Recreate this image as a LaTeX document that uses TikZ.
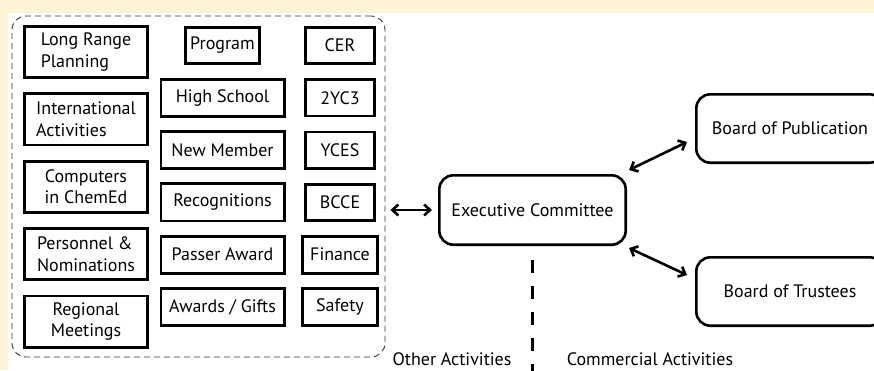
\documentclass[tikz,border=0pt]{standalone}
\usepackage{fontspec}
\setmainfont{PT Sans}
\usetikzlibrary{positioning,arrows.meta}
\definecolor{cream}{HTML}{FFF3D5}
\newcommand{\lbl}{\fontsize{18}{21.5}\selectfont}

\begin{document}
\begin{tikzpicture}[x=1pt,y=-1pt,on grid,auto,
    box/.style={draw,line width=2.8pt,align=center,inner sep=0pt,font=\lbl},
    lbox/.style={box,minimum width=123.2pt,minimum height=51.2pt},
    mbox/.style={box,minimum width=123.2pt,minimum height=37.2pt},
    sbox/.style={box,minimum width=69.2pt,minimum height=36.2pt},
    rbox/.style={box,line width=2.6pt,rounded corners=14pt},
    grpbox/.style={draw=black!80,dash pattern=on 6pt off 4pt,line width=0.9pt,rounded corners=14pt},
    arr/.style={{Straight Barb[length=6pt,width=11pt]}-{Straight Barb[length=6pt,width=11pt]},line width=2.6pt},
    split/.style={line width=3.3pt,dash pattern=on 13pt off 13pt}]
   \useasboundingbox (0,0) rectangle (874,370);
   \fill[cream] (0,0) rectangle (874,370);
   \fill[white] (8,13) rectangle (874,370);
   % committees
   \node[grpbox,minimum width=373pt,minimum height=341pt] (grp) at (198.5,186.5) {};
   \node[lbox,align=left] (lrp) at (86,52) {Long Range\\Planning};
   \node[lbox,align=left] (intl) [below=67.4pt of lrp] {International\\Activities};
   \node[lbox] (comp) [below=67.4pt of intl] {Computers\\in ChemEd};
   \node[lbox,align=left] (pers) [below=67.4pt of comp] {Personnel \&\\Nominations};
   \node[lbox] (reg) [below=67.4pt of pers] {Regional\\Meetings};
   \node[box,minimum width=74.2pt,minimum height=36.2pt] (prog) at (222.5,45.5) {Program};
   \node[mbox] (hs) [below=52.3pt of prog] {High School};
   \node[mbox] (nm) [below=52.3pt of hs] {New Member};
   \node[mbox] (rec) [below=52.3pt of nm] {Recognitions};
   \node[mbox] (pa) [below=52.3pt of rec] {Passer Award};
   \node[mbox] (ag) [below=52.3pt of pa] {Awards / Gifts};
   \node[sbox] (cer) [right=117.5pt of prog] {CER};
   \node[sbox] (tyc) [below=52.3pt of cer] {2YC3};
   \node[sbox] (yces) [below=52.3pt of tyc] {YCES};
   \node[sbox] (bcce) [below=52.3pt of yces] {BCCE};
   \node[sbox,minimum width=75.2pt,minimum height=37.2pt] (fin) [below=52.3pt of bcce] {Finance};
   \node[sbox,minimum width=75.2pt,minimum height=37.2pt] (saf) [below=52.3pt of fin] {Safety};
   % boards
   \node[rbox,minimum width=186.4pt,minimum height=69.4pt] (exec) at (532.5,210) {Executive Committee};
   \node[rbox,minimum width=187.4pt,minimum height=68.4pt] (pub) at (790,128.5) {Board of Publication};
   \node[rbox,minimum width=187.4pt,minimum height=68.4pt] (trust) [below=163pt of pub] {Board of Trustees};
   \draw[arr] ([shift={(5,23.5)}]grp.east) -- ([shift={(-6,0)}]exec.west);
   \draw[arr] ([shift={(2,-4)}]exec.north east) -- ([shift={(-8,-22)}]pub.south west);
   \draw[arr] ([shift={(2,2)}]exec.south east) -- ([shift={(-8,19)}]trust.north west);
   \coordinate (bot) at (532.5,372);
   \draw[split] ([shift={(0,14)}]exec.south) -- (bot);
   \node[font=\lbl,anchor=base,inner sep=0pt] (other) at (452,365.5) {Other Activities};
   \node[font=\lbl,anchor=base,inner sep=0pt] (comm) at (650,365.5) {Commercial Activities};
\end{tikzpicture}
\end{document}
